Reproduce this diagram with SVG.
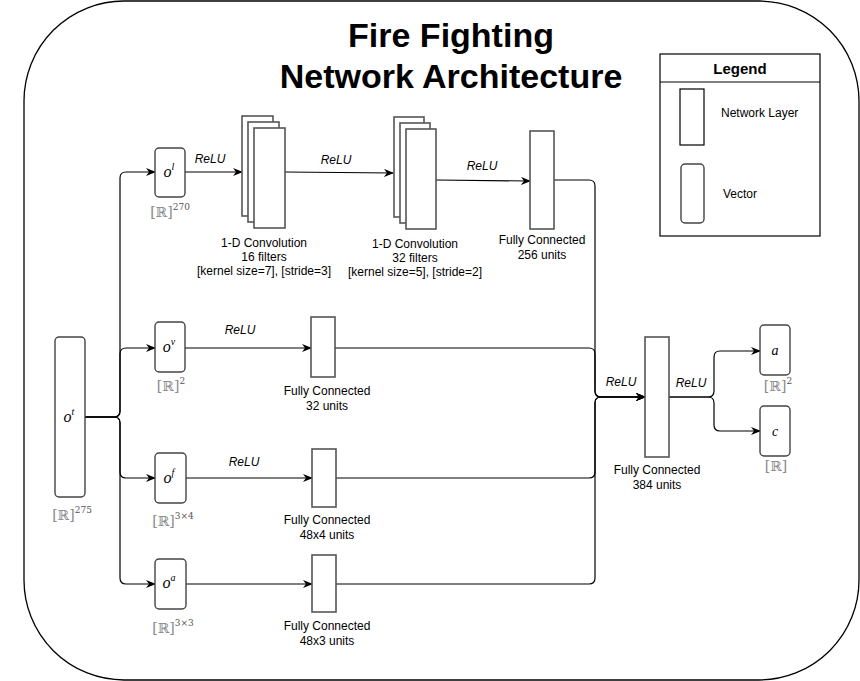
<svg xmlns="http://www.w3.org/2000/svg" width="860" height="681" viewBox="0 0 860 681">
<defs>
<marker id="arr" markerWidth="10" markerHeight="8" refX="9" refY="4" orient="auto" markerUnits="userSpaceOnUse">
<path d="M0,0 L10,4 L0,8 L3,4 Z" fill="#000"/>
</marker>
<style>
.frame{fill:#fff;stroke:#000;stroke-width:1.3}
.layer{fill:#fff;stroke:#555;stroke-width:1.6}
.vec{fill:#fff;stroke:#444;stroke-width:1.4}
.edge{fill:none;stroke:#000;stroke-width:1.2}
.lbl{font-family:"Liberation Sans",Arial,sans-serif;font-size:12px;fill:#000;text-anchor:middle}
.relu{font-family:"Liberation Sans",Arial,sans-serif;font-size:12px;font-style:italic;fill:#000;text-anchor:middle}
.math{font-family:"Liberation Serif","DejaVu Serif",serif;font-size:16px;font-style:italic;fill:#000;text-anchor:middle}
.sup{font-size:10px}
.dim{font-family:"DejaVu Serif","Liberation Serif",serif;font-size:14px;fill:#8a8a8a;text-anchor:middle}
.dsup{font-size:9px;fill:#555}
.title{font-family:"Liberation Sans",Arial,sans-serif;font-size:34px;font-weight:bold;fill:#000;text-anchor:middle}
</style>
</defs>
<rect class="frame" x="24" y="1" width="835" height="679" rx="100" ry="100"/>
<g id="title">
<text class="title" x="451" y="47">Fire Fighting</text>
<text class="title" x="451" y="88">Network Architecture</text>
</g>
<g id="legend">
<rect x="660" y="54" width="160" height="182" fill="#fff" stroke="#000" stroke-width="1.2"/>
<line x1="660" y1="82" x2="820" y2="82" stroke="#000" stroke-width="1.2"/>
<text x="740" y="74" style="font-family:'Liberation Sans',Arial,sans-serif;font-size:15px;font-weight:bold" text-anchor="middle">Legend</text>
<rect x="680" y="89" width="24" height="56" fill="#fff" stroke="#000" stroke-width="1.2"/>
<text x="721" y="117" style="font-family:'Liberation Sans',Arial,sans-serif;font-size:12px">Network Layer</text>
<rect class="vec" x="681" y="164" width="23" height="59" rx="4"/>
<text x="723" y="198" style="font-family:'Liberation Sans',Arial,sans-serif;font-size:12px">Vector</text>
</g>
<g id="connectors">
<path class="edge" d="M85,417 L114,417 Q120,417 120,411 L120,178 Q120,172 126,172 L155,172" marker-end="url(#arr)"/>
<path class="edge" d="M85,417 L114,417 Q120,417 120,411 L120,354 Q120,348 126,348 L155,348" marker-end="url(#arr)"/>
<path class="edge" d="M85,417 L114,417 Q120,417 120,423 L120,472 Q120,478 126,478 L155,478" marker-end="url(#arr)"/>
<path class="edge" d="M85,417 L114,417 Q120,417 120,423 L120,578 Q120,584 126,584 L155,584" marker-end="url(#arr)"/>
<path class="edge" d="M185,172 L242,172" marker-end="url(#arr)"/>
<path class="edge" d="M285,172 L393,173" marker-end="url(#arr)"/>
<path class="edge" d="M436,180 L530,181" marker-end="url(#arr)"/>
<path class="edge" d="M185,348 L311,348" marker-end="url(#arr)"/>
<path class="edge" d="M186,478 L312,478" marker-end="url(#arr)"/>
<path class="edge" d="M186,584 L312,584" marker-end="url(#arr)"/>
<path class="edge" d="M554,180 L589,180 Q595,180 595,186 L595,391 Q595,397 601,397 L645,397" marker-end="url(#arr)"/>
<path class="edge" d="M335,348 L589,348 Q595,348 595,354 L595,391 Q595,397 601,397 L645,397" marker-end="url(#arr)"/>
<path class="edge" d="M336,478 L589,478 Q595,478 595,472 L595,403 Q595,397 601,397 L645,397" marker-end="url(#arr)"/>
<path class="edge" d="M336,584 L589,584 Q595,584 595,578 L595,403 Q595,397 601,397 L645,397" marker-end="url(#arr)"/>
<path class="edge" d="M669,397 L708,397 Q714,397 714,391 L714,357 Q714,351 720,351 L760,351" marker-end="url(#arr)"/>
<path class="edge" d="M669,397 L708,397 Q714,397 714,403 L714,425 Q714,431 720,431 L760,431" marker-end="url(#arr)"/>
<text class="relu" x="210" y="163">ReLU</text>
<text class="relu" x="336" y="164">ReLU</text>
<text class="relu" x="482" y="170">ReLU</text>
<text class="relu" x="240" y="334">ReLU</text>
<text class="relu" x="244" y="466">ReLU</text>
<text class="relu" x="621" y="386">ReLU</text>
<text class="relu" x="691" y="387">ReLU</text>
</g>
<g id="ot">
<rect class="vec" x="55" y="337" width="30" height="160" rx="4"/>
<text class="math" x="69" y="422">o<tspan class="sup" dy="-7">t</tspan></text>
<text class="dim" x="72" y="520">[ℝ]<tspan class="dsup" dy="-7">275</tspan></text>
</g>
<g id="ol">
<rect class="vec" x="155" y="148" width="30" height="49" rx="4"/>
<text class="math" x="169" y="177">o<tspan class="sup" dy="-7">l</tspan></text>
<text class="dim" x="170" y="217">[ℝ]<tspan class="dsup" dy="-7">270</tspan></text>
</g>
<g id="conv1">
<rect class="layer" x="242" y="116" width="31" height="100"/>
<rect class="layer" x="248" y="122" width="31" height="100"/>
<rect class="layer" x="254" y="128" width="31" height="100"/>
<text class="lbl" x="264" y="247">1-D Convolution</text>
<text class="lbl" x="264" y="261">16 filters</text>
<text class="lbl" x="264" y="275">[kernel size=7], [stride=3]</text>
</g>
<g id="conv2">
<rect class="layer" x="394" y="117" width="30" height="100"/>
<rect class="layer" x="400" y="123" width="30" height="100"/>
<rect class="layer" x="406" y="129" width="30" height="100"/>
<text class="lbl" x="415" y="248">1-D Convolution</text>
<text class="lbl" x="415" y="262">32 filters</text>
<text class="lbl" x="415" y="276">[kernel size=5], [stride=2]</text>
</g>
<g id="fc256">
<rect class="layer" x="530" y="131" width="24" height="98"/>
<text class="lbl" x="542" y="244">Fully Connected</text>
<text class="lbl" x="542" y="259">256 units</text>
</g>
<g id="ov">
<rect class="vec" x="155" y="322" width="30" height="50" rx="4"/>
<text class="math" x="169" y="352">o<tspan class="sup" dy="-7">v</tspan></text>
<text class="dim" x="171" y="391">[ℝ]<tspan class="dsup" dy="-7">2</tspan></text>
</g>
<g id="fc32">
<rect class="layer" x="311" y="317" width="24" height="60"/>
<text class="lbl" x="327" y="395">Fully Connected</text>
<text class="lbl" x="327" y="410">32 units</text>
</g>
<g id="of">
<rect class="vec" x="155" y="453" width="31" height="50" rx="4"/>
<text class="math" x="169" y="483">o<tspan class="sup" dy="-7">f</tspan></text>
<text class="dim" x="173" y="526">[ℝ]<tspan class="dsup" dy="-7">3×4</tspan></text>
</g>
<g id="fc48x4">
<rect class="layer" x="312" y="449" width="24" height="58"/>
<text class="lbl" x="327" y="524">Fully Connected</text>
<text class="lbl" x="327" y="539">48x4 units</text>
</g>
<g id="oa">
<rect class="vec" x="155" y="559" width="31" height="50" rx="4"/>
<text class="math" x="169" y="588">o<tspan class="sup" dy="-7">a</tspan></text>
<text class="dim" x="173" y="633">[ℝ]<tspan class="dsup" dy="-7">3×3</tspan></text>
</g>
<g id="fc48x3">
<rect class="layer" x="312" y="555" width="24" height="57"/>
<text class="lbl" x="327" y="630">Fully Connected</text>
<text class="lbl" x="327" y="645">48x3 units</text>
</g>
<g id="fc384">
<rect class="layer" x="645" y="337" width="24" height="120"/>
<text class="lbl" x="657" y="474">Fully Connected</text>
<text class="lbl" x="657" y="489">384 units</text>
</g>
<g id="a">
<rect class="vec" x="760" y="325" width="30" height="50" rx="4"/>
<text class="math" x="775" y="355" style="font-size:14px">a</text>
<text class="dim" x="778" y="391">[ℝ]<tspan class="dsup" dy="-7">2</tspan></text>
</g>
<g id="c">
<rect class="vec" x="760" y="406" width="30" height="50" rx="4"/>
<text class="math" x="775" y="436" style="font-size:14px">c</text>
<text class="dim" x="776" y="471">[ℝ]</text>
</g>
</svg>
